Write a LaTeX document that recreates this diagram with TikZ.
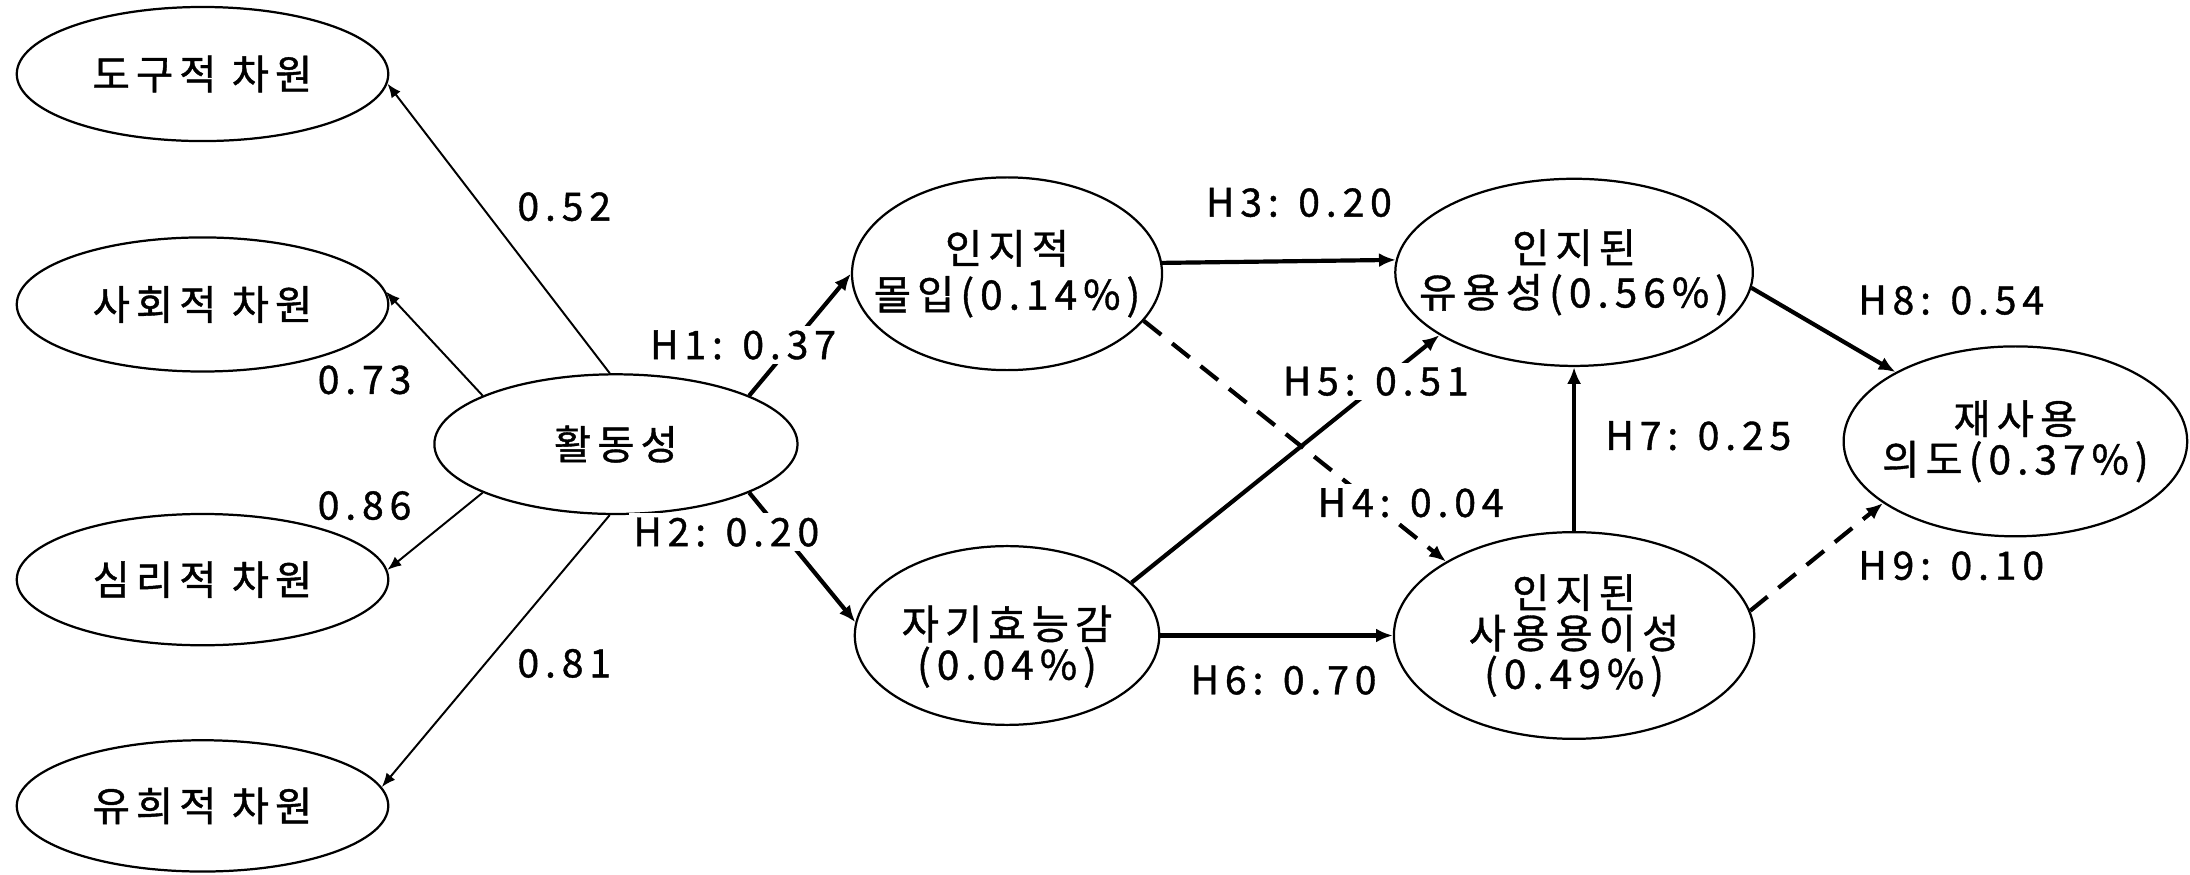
\documentclass[tikz,border=0pt]{standalone}
\usepackage{fontspec}
\setmainfont{Noto Sans CJK KR}[LetterSpace=15,FakeBold=1]
\usetikzlibrary{shapes.geometric,arrows.meta}
\begin{document}
\begin{tikzpicture}[x=0.5pt,y=-0.5pt,
  ell/.style={draw, ellipse, line width=0.8pt, inner sep=0pt},
  txt/.style={align=center, font=\fontsize{14.5}{16}\selectfont, inner sep=0pt},
  lab/.style={font=\fontsize{14}{16}\selectfont, inner sep=1.5pt},
  hlab/.style={lab, fill=white},
  load/.style={line width=0.7pt, -{Latex[length=5pt,width=4pt]}},
  pth/.style={line width=1.5pt, -{Latex[length=6pt,width=5pt]}},
  pthd/.style={pth, dash pattern=on 8pt off 5pt}
]
\useasboundingbox (0,0) rectangle (1568,626);
% ellipses
\node[ell, minimum width=133pt, minimum height=48pt] (dogu) at (145,53) {};
\node[ell, minimum width=133pt, minimum height=48pt] (sahoe) at (145,218) {};
\node[ell, minimum width=133pt, minimum height=47pt] (simri) at (145,415) {};
\node[ell, minimum width=133pt, minimum height=47pt] (yuhui) at (145,577) {};
\node[ell, minimum width=130pt, minimum height=50pt] (hwal) at (441,318) {};
\node[ell, minimum width=111pt, minimum height=69pt] (inji) at (721,196) {};
\node[ell, minimum width=109pt, minimum height=64pt] (jagi) at (721,455) {};
\node[ell, minimum width=128pt, minimum height=67pt] (yuyong) at (1127,195) {};
\node[ell, minimum width=129pt, minimum height=74pt] (sayong) at (1127,455) {};
\node[ell, minimum width=123pt, minimum height=68pt] (jae) at (1443,316) {};
% texts
\node[txt] (tdogu) at (dogu) {도구적 차원};
\node[txt] (tsahoe) at (sahoe) {사회적 차원};
\node[txt] (tsimri) at (simri) {심리적 차원};
\node[txt] (tyuhui) at (yuhui) {유희적 차원};
\node[txt] (thwal) at (hwal) {활동성};
\node[txt, font=\fontsize{14.5}{16.5}\selectfont] (tinji) at (inji) {인지적\\몰입(0.14\%)};
\node[txt, font=\fontsize{14.5}{14.5}\selectfont] (tjagi) at ([yshift=-4]jagi.center) {자기효능감\\(0.04\%)};
\node[txt, font=\fontsize{14.5}{16}\selectfont] (tyuyong) at (yuyong) {인지된\\유용성(0.56\%)};
\node[txt, font=\fontsize{14.5}{14.5}\selectfont] (tsayong) at (sayong) {인지된\\사용용이성\\(0.49\%)};
\node[txt, font=\fontsize{14.5}{14.5}\selectfont] (tjae) at (jae) {재사용\\의도(0.37\%)};
% loadings
\draw[load] (hwal.95) -- (dogu.357);
\draw[load] (hwal.160) -- (sahoe.4);
\draw[load] (hwal.200) -- (simri.3);
\draw[load] (hwal.265) -- (yuhui.6);
% structural paths
\draw[pth] (hwal.20) -- (inji.west);
\draw[pth] (hwal.340) -- (jagi.175);
\draw[pth] (inji.4) -- (yuyong.176);
\draw[pthd] (inji.341) -- (sayong.150);
\draw[pth] (jagi.23) -- (yuyong.205);
\draw[pth] (jagi.east) -- (sayong.west);
\draw[pth] (sayong.north) -- (yuyong.south);
\draw[pth] (yuyong.355) -- (jae.150);
\draw[pthd] (sayong.8) -- (jae.205);
% labels
\node[lab] (l1) at (404,148) {0.52};
\node[lab] (l2) at (261,272) {0.73};
\node[lab] (l3) at (261,362) {0.86};
\node[lab] (l4) at (404,475) {0.81};
\node[hlab] (h1) at (532,247) {H1: 0.37};
\node[hlab] (h2) at (520,381) {H2: 0.20};
\node[hlab] (h3) at (930,145) {H3: 0.20};
\node[hlab] (h5) at (985,273) {H5: 0.51};
\node[hlab] (h4) at (1010,360) {H4: 0.04};
\node[hlab] (h6) at (919,487) {H6: 0.70};
\node[hlab] (h7) at (1216,312) {H7: 0.25};
\node[hlab] (h8) at (1397,215) {H8: 0.54};
\node[hlab] (h9) at (1397,405) {H9: 0.10};
\end{tikzpicture}
\end{document}
